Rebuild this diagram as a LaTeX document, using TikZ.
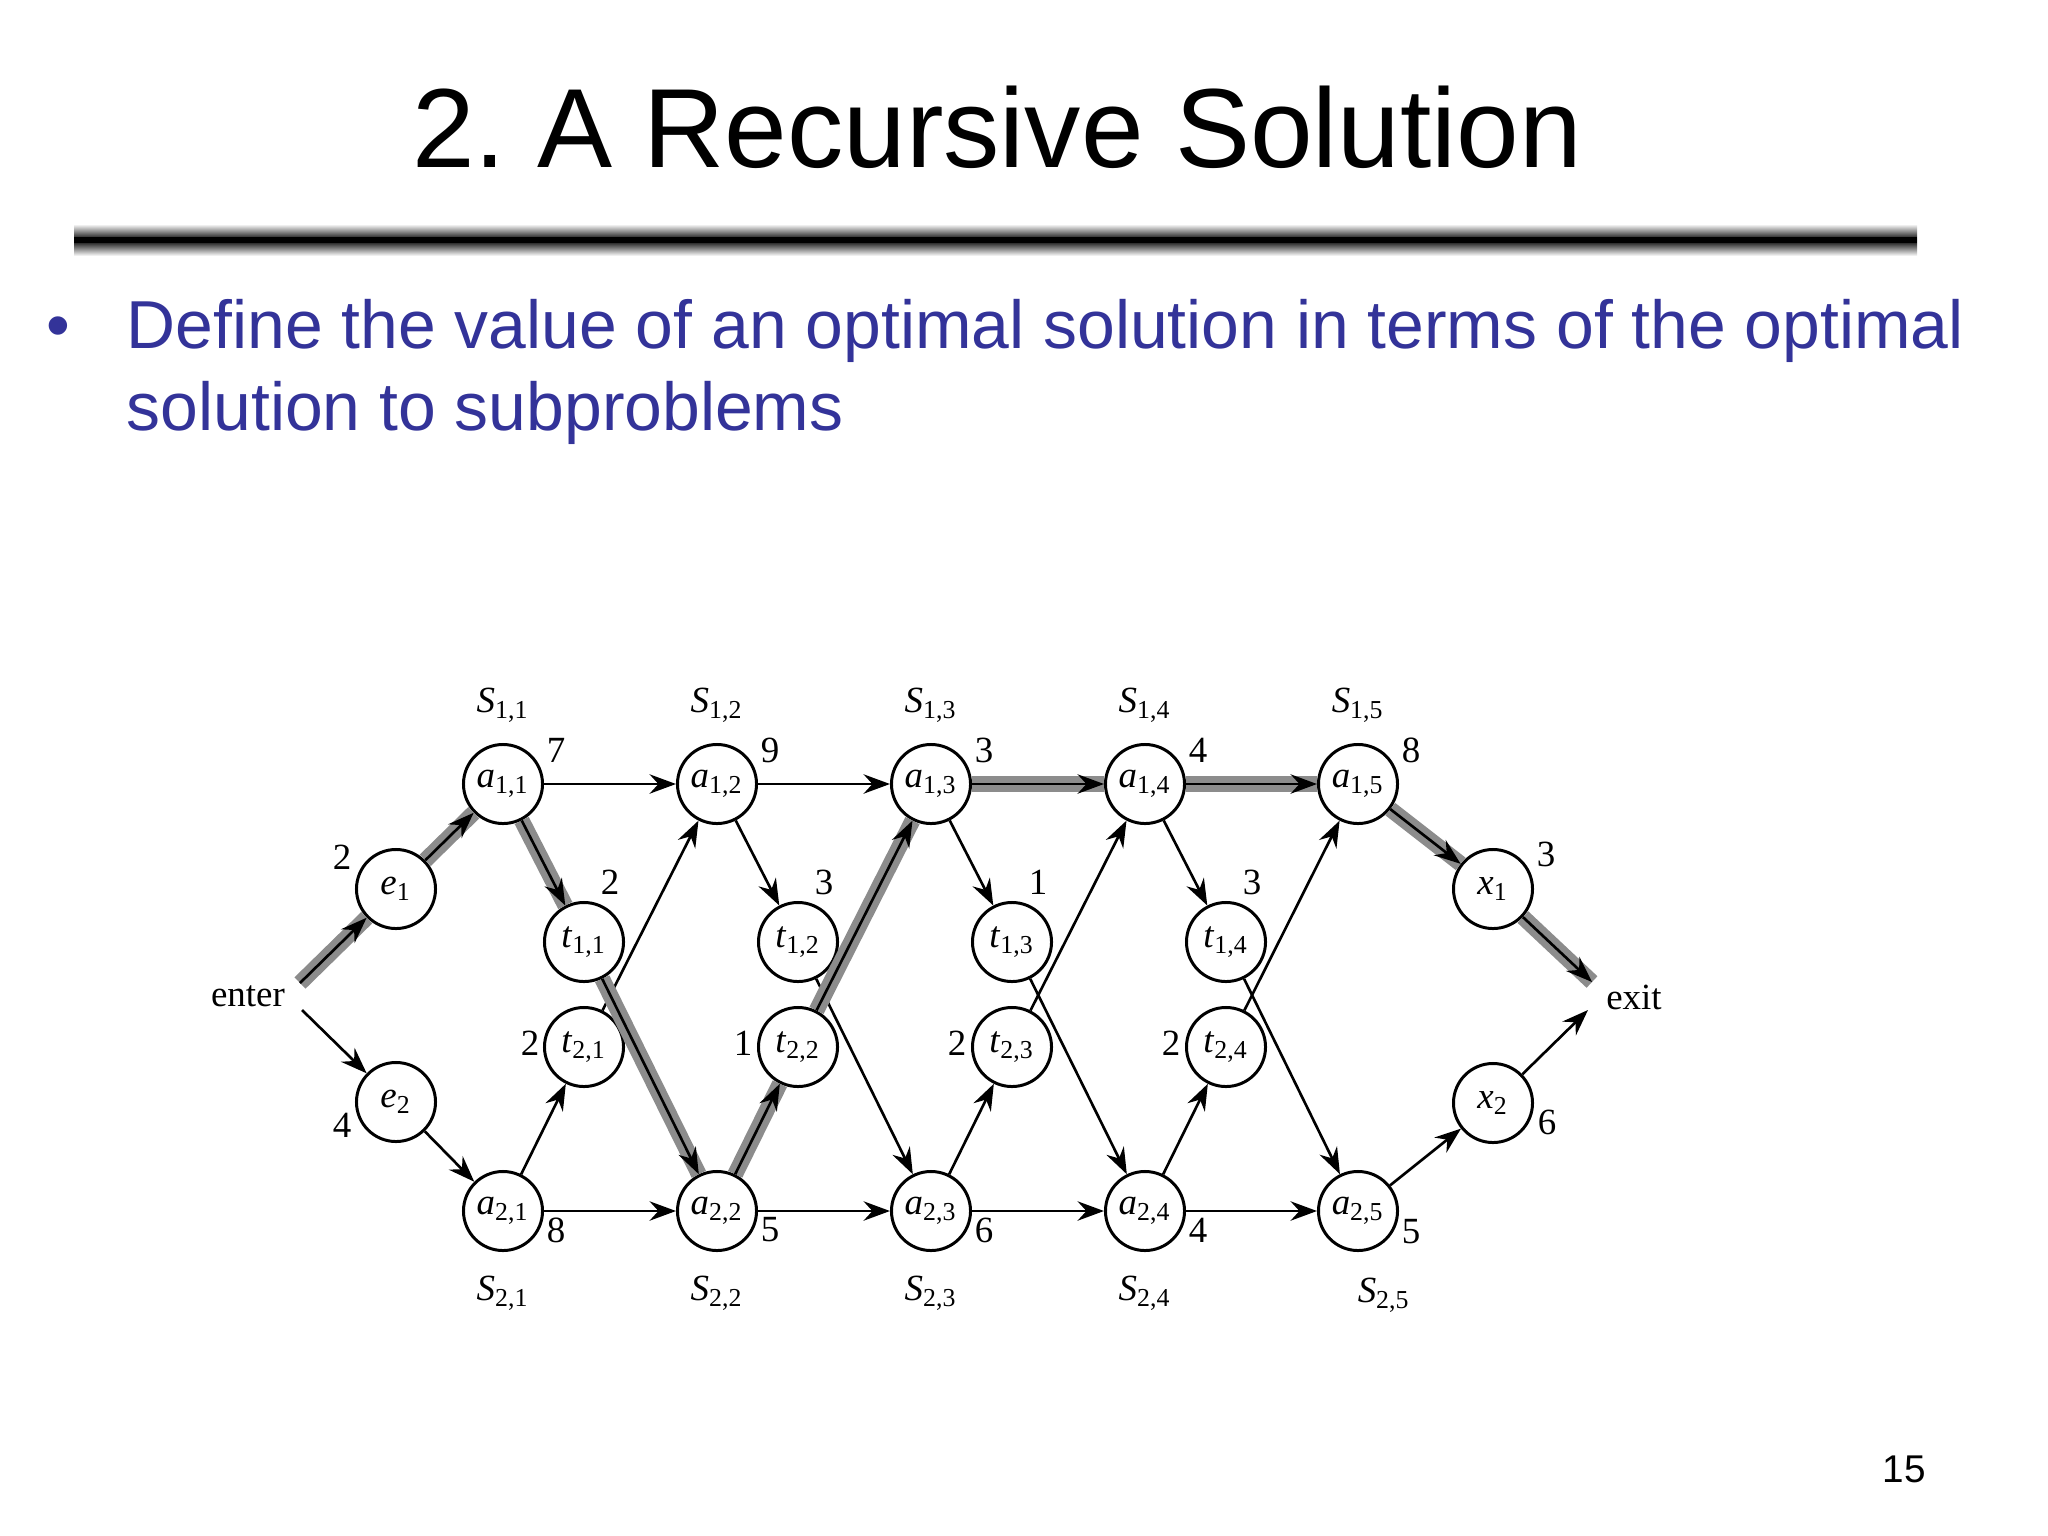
\documentclass[tikz,border=0pt]{standalone}
\usepackage{fontspec}
\setmainfont{Liberation Sans}
\newfontfamily\figfont{Liberation Serif}
\usetikzlibrary{arrows.meta}
\definecolor{slideblue}{RGB}{51,51,153}
\definecolor{pathgray}{RGB}{140,140,140}
\newcommand{\lbl}[2]{\textit{#1}\textsubscript{#2}}
\tikzset{
	station/.style={circle,draw,line width=0.85pt,minimum size=0.79cm,inner sep=0pt,fill=white,font=\figfont\fontsize{10.5}{12}\selectfont},
	weight/.style={font=\figfont\fontsize{10.5}{12}\selectfont,inner sep=0pt},
	arc/.style={-{Stealth[length=7.5pt,width=5.5pt,inset=2.5pt]},line width=0.75pt},
	best/.style={arc,preaction={draw=pathgray,line width=4.5pt,arrows=-}}
}
\begin{document}
\begin{tikzpicture}[x=0.01cm,y=-0.01cm]
		\useasboundingbox (0,0) rectangle (2048,1536);
		% slide head
		\node[anchor=base,font=\fontsize{32}{38}\selectfont] (title) at (997,167) {2.\ A Recursive Solution};
		\shade[top color=white,bottom color=white,middle color=black] (74,224) rectangle (1917,256);
		\fill[black] (74,237) rectangle (1917,243);
		\node[anchor=base,text=slideblue,font=\fontsize{19.3}{23}\selectfont] (dot) at (58,348) {•};
		\node[anchor=base west,inner sep=0pt,text=slideblue,font=\fontsize{19.3}{23}\selectfont] (line1) at (126,348) {Define the value of an optimal solution in terms of the optimal};
		\node[anchor=base west,inner sep=0pt,text=slideblue,font=\fontsize{19.3}{23}\selectfont] (line2) at (126,430) {solution to subproblems};
		\node[anchor=base,font=\fontsize{11}{13}\selectfont] (page) at (1904,1482) {15};
		% stations
		\node[station] (a11) at (503,784) {\lbl{a}{1,1}};
		\node[station] (a12) at (717,784) {\lbl{a}{1,2}};
		\node[station] (a13) at (931,784) {\lbl{a}{1,3}};
		\node[station] (a14) at (1145,784) {\lbl{a}{1,4}};
		\node[station] (a15) at (1358,784) {\lbl{a}{1,5}};
		\node[station] (a21) at (503,1211) {\lbl{a}{2,1}};
		\node[station] (a22) at (717,1211) {\lbl{a}{2,2}};
		\node[station] (a23) at (931,1211) {\lbl{a}{2,3}};
		\node[station] (a24) at (1145,1211) {\lbl{a}{2,4}};
		\node[station] (a25) at (1358,1211) {\lbl{a}{2,5}};
		\node[station] (t11) at (584,942) {\lbl{t}{1,1}};
		\node[station] (t12) at (798,942) {\lbl{t}{1,2}};
		\node[station] (t13) at (1012,942) {\lbl{t}{1,3}};
		\node[station] (t14) at (1226,942) {\lbl{t}{1,4}};
		\node[station] (t21) at (584,1047) {\lbl{t}{2,1}};
		\node[station] (t22) at (798,1047) {\lbl{t}{2,2}};
		\node[station] (t23) at (1012,1047) {\lbl{t}{2,3}};
		\node[station] (t24) at (1226,1047) {\lbl{t}{2,4}};
		\node[station] (e1) at (396,889) {\lbl{e}{1}};
		\node[station] (e2) at (396,1102) {\lbl{e}{2}};
		\node[station] (x1) at (1493,889) {\lbl{x}{1}};
		\node[station] (x2) at (1493,1103) {\lbl{x}{2}};
		\node[weight] (enter) at (248,996) {enter};
		\node[weight] (exit) at (1634,997) {exit};
		\coordinate (en1) at (300,983);
		\coordinate (en2) at (302,1010);
		\coordinate (ex1) at (1592,982);
		\coordinate (ex2) at (1588,1010);
		% line names
		\node[weight] (s11) at (503,705) {\lbl{S}{1,1}};
		\node[weight] (s12) at (717,705) {\lbl{S}{1,2}};
		\node[weight] (s13) at (931,705) {\lbl{S}{1,3}};
		\node[weight] (s14) at (1145,705) {\lbl{S}{1,4}};
		\node[weight] (s15) at (1358,705) {\lbl{S}{1,5}};
		\node[weight] (s21) at (503,1293) {\lbl{S}{2,1}};
		\node[weight] (s22) at (717,1293) {\lbl{S}{2,2}};
		\node[weight] (s23) at (931,1293) {\lbl{S}{2,3}};
		\node[weight] (s24) at (1145,1293) {\lbl{S}{2,4}};
		\node[weight] (s25) at (1384,1295) {\lbl{S}{2,5}};
		% times
		\node[weight] (w11) at (556,750) {7};
		\node[weight] (w12) at (770,750) {9};
		\node[weight] (w13) at (984,750) {3};
		\node[weight] (w14) at (1198,750) {4};
		\node[weight] (w15) at (1411,750) {8};
		\node[weight] (w21) at (556,1230) {8};
		\node[weight] (w22) at (770,1230) {5};
		\node[weight] (w23) at (984,1230) {6};
		\node[weight] (w24) at (1198,1230) {4};
		\node[weight] (w25) at (1411,1232) {5};
		\node[weight] (we1) at (342,857) {2};
		\node[weight] (we2) at (342,1125) {4};
		\node[weight] (wt11) at (610,882) {2};
		\node[weight] (wt12) at (824,882) {3};
		\node[weight] (wt13) at (1038,882) {1};
		\node[weight] (wt14) at (1252,882) {3};
		\node[weight] (wt21) at (530,1043) {2};
		\node[weight] (wt22) at (743,1043) {1};
		\node[weight] (wt23) at (957,1043) {2};
		\node[weight] (wt24) at (1171,1043) {2};
		\node[weight] (wx1) at (1546,854) {3};
		\node[weight] (wx2) at (1547,1122) {6};
		% transfers
		\draw[arc] (t21) -- (a12);
		\draw[arc] (t12) -- (a23);
		\draw[arc] (t23) -- (a14);
		\draw[arc] (t13) -- (a24);
		\draw[arc] (t24) -- (a15);
		\draw[arc] (t14) -- (a25);
		\draw[arc] (a12) -- (t12);
		\draw[arc] (a13) -- (t13);
		\draw[arc] (a14) -- (t14);
		\draw[arc] (a21) -- (t21);
		\draw[arc] (a23) -- (t23);
		\draw[arc] (a24) -- (t24);
		\draw[arc] (en2) -- (e2);
		\draw[arc] (e2) -- (a21);
		\draw[arc] (a11) -- (a12);
		\draw[arc] (a12) -- (a13);
		\draw[arc] (a21) -- (a22);
		\draw[arc] (a22) -- (a23);
		\draw[arc] (a23) -- (a24);
		\draw[arc] (a24) -- (a25);
		\draw[arc] (a25) -- (x2);
		\draw[arc] (x2) -- (ex2);
		% fastest way
		\draw[best] (en1) -- (e1);
		\draw[best] (e1) -- (a11);
		\draw[best] (a11) -- (t11);
		\draw[best] (t11) -- (a22);
		\draw[best] (a22) -- (t22);
		\draw[best] (t22) -- (a13);
		\draw[best] (a13) -- (a14);
		\draw[best] (a14) -- (a15);
		\draw[best] (a15) -- (x1);
		\draw[best] (x1) -- (ex1);
\end{tikzpicture}
\end{document}
